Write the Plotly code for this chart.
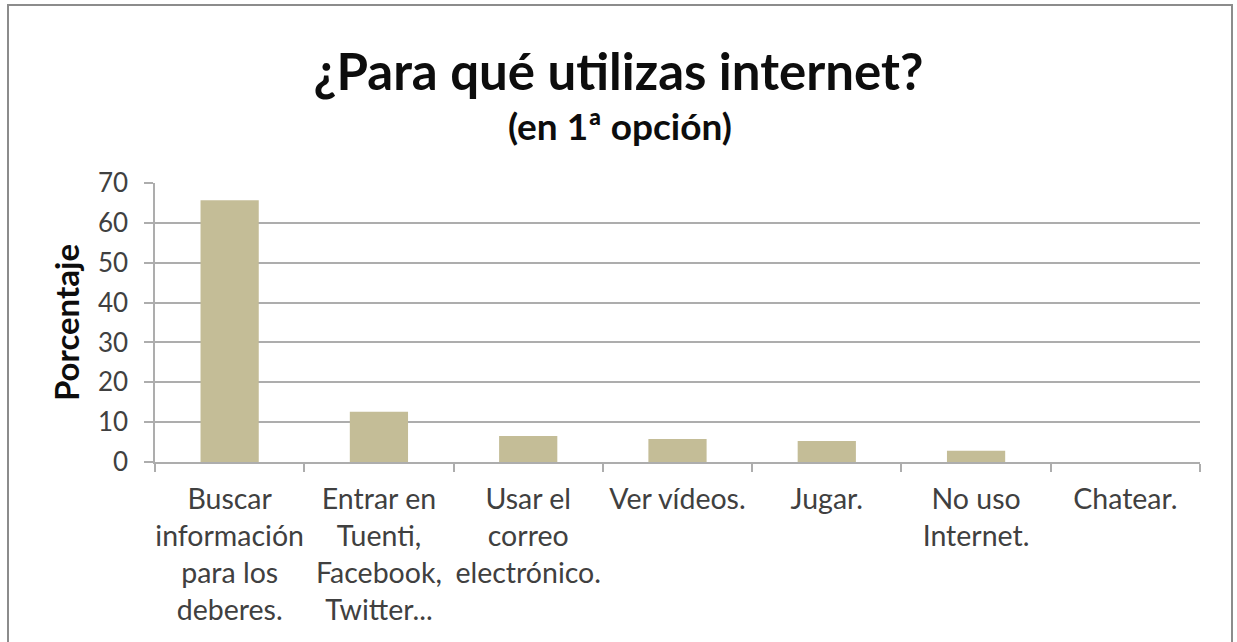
import plotly.graph_objects as go

categories = [
    "Buscar<br>información<br>para los<br>deberes.",
    "Entrar en<br>Tuenti,<br>Facebook,<br>Twitter...",
    "Usar el<br>correo<br>electrónico.",
    "Ver vídeos.",
    "Jugar.",
    "No uso<br>Internet.",
    "Chatear.",
]
values = [65.7, 12.6, 6.5, 5.8, 5.3, 2.8, 0]
y_ticks = [0, 10, 20, 30, 40, 50, 60, 70]

FONT = "Lato"
GRID = "#ADADAD"

fig = go.Figure()
fig.add_trace(go.Bar(
    x=categories, y=values,
    marker=dict(color="#C4BD97", line=dict(width=0)),
    width=0.39,
))

fig.update_layout(
    width=1237, height=642,
    paper_bgcolor="white", plot_bgcolor="white",
    margin=dict(l=155, r=37, t=183, b=180),
    showlegend=False,
    font=dict(family=FONT, color="#262626"),
    title=dict(
        text="<b>¿Para qué utilizas internet?</b>",
        x=0.5, xanchor="center", xref="container",
        y=1 - 72 / 642, yanchor="middle", yref="container",
        font=dict(family=FONT, size=51, color="#0d0d0d"),
    ),
    annotations=[dict(
        text="<b>(en 1ª opción)</b>",
        xref="paper", yref="paper", x=(620 - 155) / 1045, y=(462 - 126) / 279,
        xanchor="center", yanchor="middle", showarrow=False,
        font=dict(family=FONT, size=37, color="#0d0d0d"),
    )],
    shapes=[dict(
        type="rect", xref="paper", yref="paper",
        x0=(8 - 155) / 1045, x1=(1232 - 155) / 1045,
        y0=(462 - 660) / 279, y1=(462 - 5) / 279,
        line=dict(color="#8C8C8C", width=2), layer="below",
    )],
)

fig.update_yaxes(
    range=[0, 70], tickvals=y_ticks,
    showgrid=True, gridcolor=GRID, gridwidth=1.5,
    showline=True, linecolor=GRID, linewidth=1.5,
    ticks="outside", ticklen=9, tickcolor=GRID, tickwidth=1.5,
    tickfont=dict(family=FONT, size=26, color="#404040"),
    ticklabelstandoff=11,
    zeroline=False,
    title=dict(text="<b>Porcentaje</b>", font=dict(family=FONT, size=33, color="#0d0d0d"), standoff=8),
)
fig.update_xaxes(
    type="category",
    showgrid=False, showline=True, linecolor=GRID, linewidth=1.5,
    ticks="outside", tickson="boundaries", ticklen=8, tickcolor=GRID, tickwidth=1.5,
    tickfont=dict(family=FONT, size=28.5, color="#404040"),
    tickangle=0,
    ticklabelstandoff=11,
    mirror=False,
)

fig.write_html("out.html", config={"displayModeBar": False},
               post_script="document.body.style.margin='0';document.body.style.overflow='hidden';")
